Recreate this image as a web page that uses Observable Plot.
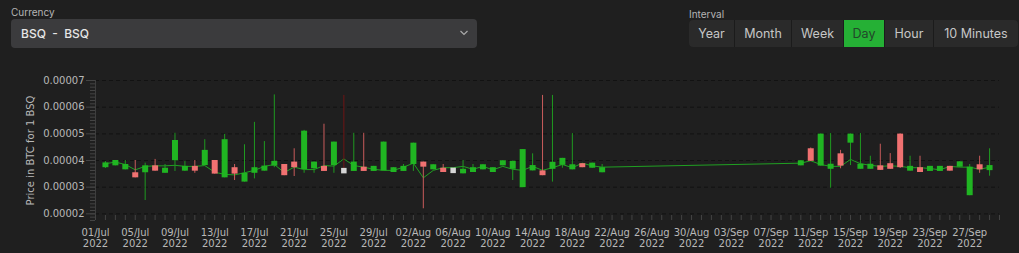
<!DOCTYPE html>
<html><head><meta charset="utf-8">
<script src="https://cdn.jsdelivr.net/npm/d3@7"></script>
<script src="https://cdn.jsdelivr.net/npm/@observablehq/plot@0.6"></script>
<style>
html,body{margin:0;padding:0;background:#1f1f1f;width:1019px;height:253px;overflow:hidden;font-family:Inter,"Noto Sans",sans-serif;}
.lbl{position:absolute;font-size:10px;line-height:10px;color:#b5b5b5;}
#sel{position:absolute;left:11px;top:19px;width:466px;height:29px;background:#3b3b3d;border-radius:4px;}
#sel span{position:absolute;left:10px;top:0;line-height:29px;font-size:12px;font-weight:500;color:#e6e6e6;white-space:pre;}
#sel svg{position:absolute;left:448px;top:10px;}
#btns{position:absolute;left:689px;top:20px;height:27px;display:flex;gap:1px;background:#1b1b1b;border-radius:4px;overflow:hidden;}
.b{height:27px;line-height:27px;text-align:center;background:#2a2a2a;color:#c6c6c6;font-size:12.5px;}
.b.on{background:#25b035;color:#22472a;}
#chart{position:absolute;left:0;top:60px;}
</style></head>
<body>
<div class="lbl" style="left:11px;top:7px">Currency</div>
<div id="sel"><span>BSQ  -  BSQ</span><svg width="10" height="8"><path d="M1.5 2 L5 5.5 L8.5 2" fill="none" stroke="#aaaaaa" stroke-width="1.2"/></svg></div>
<div class="lbl" style="left:689px;top:9px">Interval</div>
<div id="btns">
<div class="b" style="width:45px">Year</div>
<div class="b" style="width:56px">Month</div>
<div class="b" style="width:51px">Week</div>
<div class="b on" style="width:40px">Day</div>
<div class="b" style="width:48px">Hour</div>
<div class="b" style="width:84px">10 Minutes</div>
</div>
<div id="chart"></div>
<script>
const dates = [
"2022-07-02","2022-07-03","2022-07-04","2022-07-05","2022-07-06","2022-07-07","2022-07-08","2022-07-09","2022-07-10","2022-07-11",
"2022-07-12","2022-07-13","2022-07-14","2022-07-15","2022-07-16","2022-07-17","2022-07-18","2022-07-19","2022-07-20","2022-07-21",
"2022-07-22","2022-07-23","2022-07-24","2022-07-25","2022-07-26","2022-07-27","2022-07-28","2022-07-29","2022-07-30","2022-07-31",
"2022-08-01","2022-08-02","2022-08-03","2022-08-04","2022-08-05","2022-08-06","2022-08-07","2022-08-08","2022-08-09","2022-08-10",
"2022-08-11","2022-08-12","2022-08-13","2022-08-14","2022-08-15","2022-08-16","2022-08-17","2022-08-18","2022-08-19","2022-08-20","2022-08-21",
"2022-09-10","2022-09-11","2022-09-12","2022-09-13","2022-09-14","2022-09-15","2022-09-16","2022-09-17","2022-09-18","2022-09-19",
"2022-09-20","2022-09-21","2022-09-22","2022-09-23","2022-09-24","2022-09-25","2022-09-26","2022-09-27","2022-09-28","2022-09-29"];
const open = [
3.73e-5,3.80e-5,3.65e-5,3.54e-5,3.54e-5,3.80e-5,3.52e-5,3.99e-5,3.60e-5,3.78e-5,
3.81e-5,4.00e-5,3.35e-5,3.73e-5,3.19e-5,3.52e-5,3.60e-5,3.79e-5,3.85e-5,3.94e-5,
3.66e-5,3.69e-5,3.78e-5,3.81e-5,3.62e-5,3.59e-5,3.75e-5,3.59e-5,3.61e-5,3.55e-5,
3.59e-5,3.85e-5,3.94e-5,3.65e-5,3.71e-5,3.63e-5,3.50e-5,3.55e-5,3.65e-5,3.55e-5,
3.80e-5,3.67e-5,2.98e-5,3.61e-5,3.61e-5,3.67e-5,3.82e-5,3.65e-5,3.88e-5,3.71e-5,3.54e-5,
3.80e-5,4.44e-5,3.79e-5,3.67e-5,4.25e-5,4.65e-5,3.67e-5,3.67e-5,3.80e-5,3.88e-5,
4.99e-5,3.60e-5,3.73e-5,3.59e-5,3.59e-5,3.78e-5,3.75e-5,2.68e-5,3.84e-5,3.62e-5];
const close = [
3.91e-5,4.00e-5,3.85e-5,3.35e-5,3.80e-5,3.60e-5,3.71e-5,4.75e-5,3.78e-5,3.60e-5,
4.38e-5,3.49e-5,4.78e-5,3.49e-5,3.52e-5,3.73e-5,3.79e-5,3.97e-5,3.43e-5,3.73e-5,
5.10e-5,3.94e-5,3.59e-5,4.69e-5,3.62e-5,3.94e-5,3.59e-5,3.78e-5,4.69e-5,3.73e-5,
3.78e-5,4.65e-5,3.75e-5,3.84e-5,3.55e-5,3.63e-5,3.67e-5,3.73e-5,3.84e-5,3.73e-5,
3.99e-5,3.97e-5,4.41e-5,3.81e-5,3.43e-5,3.93e-5,4.08e-5,3.84e-5,3.73e-5,3.90e-5,3.73e-5,
3.99e-5,3.97e-5,4.99e-5,3.86e-5,3.79e-5,4.99e-5,3.86e-5,3.86e-5,3.63e-5,3.67e-5,
3.73e-5,3.78e-5,3.55e-5,3.78e-5,3.78e-5,3.60e-5,3.95e-5,3.75e-5,3.65e-5,3.81e-5];
const high = [
3.96e-5,4.00e-5,4.00e-5,4.00e-5,3.90e-5,4.04e-5,3.85e-5,5.02e-5,3.96e-5,4.00e-5,
4.78e-5,4.00e-5,4.98e-5,3.85e-5,4.59e-5,5.43e-5,4.71e-5,6.46e-5,3.85e-5,4.44e-5,
5.13e-5,3.94e-5,5.36e-5,4.69e-5,6.44e-5,5.02e-5,5.02e-5,3.78e-5,4.69e-5,3.73e-5,
3.85e-5,4.65e-5,3.94e-5,3.84e-5,3.85e-5,3.71e-5,4.00e-5,3.85e-5,3.84e-5,3.73e-5,
3.99e-5,3.97e-5,4.41e-5,4.25e-5,6.44e-5,6.44e-5,4.08e-5,5.01e-5,3.88e-5,3.90e-5,3.85e-5,
3.99e-5,4.47e-5,4.99e-5,5.01e-5,4.38e-5,4.99e-5,5.01e-5,4.16e-5,4.61e-5,4.26e-5,
5.00e-5,4.16e-5,4.16e-5,3.78e-5,3.78e-5,3.78e-5,3.95e-5,3.85e-5,4.16e-5,4.44e-5];
const low = [
3.70e-5,3.80e-5,3.65e-5,3.35e-5,2.50e-5,3.60e-5,3.52e-5,3.59e-5,3.59e-5,3.52e-5,
3.81e-5,3.49e-5,3.35e-5,3.25e-5,3.19e-5,3.31e-5,3.60e-5,3.73e-5,3.43e-5,3.40e-5,
3.52e-5,3.52e-5,3.59e-5,3.52e-5,3.52e-5,3.59e-5,3.59e-5,3.59e-5,3.61e-5,3.55e-5,
3.59e-5,3.59e-5,2.19e-5,3.65e-5,3.55e-5,3.55e-5,3.50e-5,3.55e-5,3.65e-5,3.55e-5,
3.80e-5,3.25e-5,2.98e-5,3.61e-5,3.43e-5,3.19e-5,3.71e-5,3.65e-5,3.73e-5,3.71e-5,3.54e-5,
3.80e-5,3.96e-5,3.79e-5,2.96e-5,3.69e-5,3.81e-5,3.67e-5,3.67e-5,3.63e-5,3.67e-5,
3.70e-5,3.60e-5,3.55e-5,3.59e-5,3.59e-5,3.60e-5,3.75e-5,2.68e-5,3.52e-5,3.41e-5];
const avg = [
3.88e-5,3.94e-5,3.85e-5,3.65e-5,3.78e-5,3.80e-5,3.80e-5,3.82e-5,3.78e-5,3.78e-5,
3.81e-5,3.56e-5,3.48e-5,3.46e-5,3.54e-5,3.63e-5,3.78e-5,3.85e-5,3.55e-5,3.75e-5,
3.66e-5,3.66e-5,3.81e-5,3.79e-5,4.06e-5,3.81e-5,3.75e-5,3.67e-5,3.63e-5,3.63e-5,
3.75e-5,3.90e-5,3.35e-5,3.63e-5,3.73e-5,3.73e-5,3.78e-5,3.67e-5,3.78e-5,3.65e-5,
3.78e-5,3.67e-5,3.63e-5,3.78e-5,3.63e-5,3.73e-5,3.85e-5,3.73e-5,3.90e-5,3.80e-5,3.75e-5,
3.90e-5,3.99e-5,3.85e-5,3.78e-5,3.78e-5,4.04e-5,3.88e-5,3.82e-5,3.78e-5,3.80e-5,
3.78e-5,3.73e-5,3.73e-5,3.70e-5,3.65e-5,3.78e-5,3.75e-5,3.75e-5,3.67e-5,3.75e-5];
const yTicks = [2e-5, 3e-5, 4e-5, 5e-5, 6e-5, 7e-5];
const xTickLabels = ["01/Jul","05/Jul","09/Jul","13/Jul","17/Jul","21/Jul","25/Jul","29/Jul","02/Aug","06/Aug","10/Aug","14/Aug",
"18/Aug","22/Aug","26/Aug","30/Aug","03/Sep","07/Sep","11/Sep","15/Sep","19/Sep","23/Sep","27/Sep"];
const yearLabel = "2022";
const yLabel = "Price in BTC for 1 BSQ";

const rows = dates.map((d, i) => ({date: new Date(d), open: open[i], close: close[i], high: high[i], low: low[i], avg: avg[i]}));
const parse = d3.utcParse("%d/%b %Y");
const xTicks = xTickLabels.map(s => parse(s + " " + yearLabel));
const x0 = new Date("2022-07-01"), x1 = new Date("2022-09-30");
const days = d3.utcDay.range(x0, new Date("2022-10-01"));
const minorY = d3.range(0, 43).map(k => 1.75e-5 + k * 1.25e-6);
const bodyColor = d => d.close > d.open ? "#20b522" : d.close < d.open ? "#f07171" : "#d6d6d6";
const wickColor = d => d.close > d.open ? "#1f9a20" : d.close < d.open ? "#c95b5b" : "#6e1515";

const chart = Plot.plot({
  width: 1019, height: 193,
  marginTop: 20, marginBottom: 33, marginLeft: 95, marginRight: 20,
  style: {fontFamily: "DejaVu Sans", fontSize: "10px", color: "#b8b8b8", background: "transparent"},
  x: {type: "utc", domain: [x0, x1]},
  y: {domain: [1.75e-5, 7e-5]},
  marks: [
    Plot.ruleY(yTicks, {stroke: "#121212", strokeDasharray: "4,3"}),
    Plot.ruleX([x0], {stroke: "#3e3e3e"}),
    Plot.tickX(days, {x: d => d, insetTop: 135, stroke: "#444"}),
    Plot.axisY({ticks: minorY, tickSize: 5, tickFormat: () => "", stroke: "#444", label: null}),
    Plot.axisY({ticks: yTicks, tickSize: 9, tickPadding: 2, tickFormat: d => d.toFixed(5), stroke: "#444", fill: "#b8b8b8",
      label: yLabel, labelAnchor: "center", labelArrow: "none", labelOffset: 69}),
    Plot.axisX({ticks: xTicks, tickSize: 0, tickPadding: 7, lineHeight: 1.13, fill: "#b8b8b8", label: null,
      tickFormat: d => d3.utcFormat("%d/%b")(d) + "\n" + yearLabel}),
    Plot.line(rows, {x: "date", y: "avg", stroke: "#1f9f22", strokeWidth: 1}),
    Plot.ruleX(rows, {x: "date", y1: "low", y2: "high", stroke: wickColor, strokeWidth: 1}),
    Plot.ruleX(rows, {x: "date", y1: "open", y2: "close", stroke: bodyColor, strokeWidth: 6}),
    Plot.dot(rows, {filter: d => d.open === d.close, x: "date", y: "open", symbol: "square", r: 3.1, fill: bodyColor, stroke: null})
  ]
});
document.getElementById("chart").appendChild(chart);
</script>
</body></html>
